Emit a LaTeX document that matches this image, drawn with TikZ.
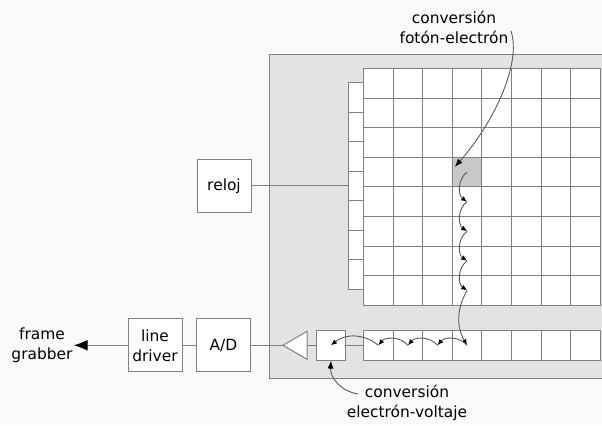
\documentclass[tikz,border=0pt]{standalone}
\usepackage{fontspec}
\setmainfont{DejaVu Sans}
\usetikzlibrary{arrows.meta,calc}
\definecolor{panelgray}{HTML}{E3E3E3}
\definecolor{cellgray}{HTML}{C8C8C8}
\definecolor{linegray}{HTML}{808080}
\tikzset{
  line/.style={draw=linegray,line width=1bp},
  cell/.style={line,fill=white,anchor=north west,inner sep=0pt,
    minimum width=29.6bp,minimum height=29.6bp},
  shiftcell/.style={line,fill=white,anchor=north west,inner sep=0pt,
    minimum width=15bp,minimum height=29.5bp},
  block/.style={line,fill=white,inner sep=0pt,
    minimum width=54bp,minimum height=53bp,font=\fontsize{15.5}{20}\selectfont,align=center},
  label/.style={inner sep=1pt,align=center,font=\fontsize{15.5}{20}\selectfont},
  hop/.style={draw=black!65,line width=0.9bp,-{Latex[length=6bp,width=5bp,black]}},
}
% one hop of the charge packet, from cell to cell
\newcommand{\hop}[3]{\draw[hop] (#1) to[bend right=#3] (#2);}

\begin{document}
\begin{tikzpicture}[x=1bp,y=1bp]
  \useasboundingbox[fill=white!98!black] (0,0) rectangle (602,425);
  \clip (0,0) rectangle (602,425);
  \draw[line,fill=panelgray] (269,47) rectangle (620,371);

  % image area
  \foreach \i in {0,...,7}
    \foreach \j in {0,...,7}
      \node[cell] (c\i-\j) at (363+29.6*\i,357-29.6*\j) {};
  \node[cell,fill=cellgray] at (c3-3.north west) {};
  % vertical clock register
  \foreach \j in {0,...,6}
    \node[shiftcell] (s\j) at (348,343-29.5*\j) {};
  % horizontal register
  \foreach \i in {0,...,7}
    \node[cell] (r\i) at (363+29.6*\i,95) {};

  % output stage
  \node[line,fill=white,minimum size=29.6bp,inner sep=0pt] (out) at (331,0 |- r0) {};
  \draw[line] (r0.west) -- (out.east);
  \coordinate (ampin) at (307,0 |- r0);
  \coordinate (amp) at (283,0 |- r0);
  \draw[line,fill=white] ($(ampin)+(0,14)$) -- (amp) -- ($(ampin)+(0,-14)$) -- cycle;
  \draw[line] (out.west) -- (ampin);
  \node[block] (ad) at (223.5,0 |- r0) {A/D};
  \node[block] (driver) at (155,0 |- r0) {line\\driver};
  \node[label] (grabber) at (42,0 |- r0) {frame\\grabber};
  \draw[line] (amp) -- (ad.east);
  \draw[line] (ad.west) -- (driver.east);
  \draw[line,-{Latex[length=14bp,width=11bp,black]}] (driver.west) -- (grabber.east);

  % clock
  \node[block] (reloj) at (224,0 |- s3) {reloj};
  \draw[line] (reloj.east) -- (s3.west);

  % charge transfer
  \hop{c3-3.center}{c3-4.center}{55}
  \hop{c3-4.center}{c3-5.center}{55}
  \hop{c3-5.center}{c3-6.center}{55}
  \hop{c3-6.center}{c3-7.center}{55}
  \hop{c3-7.center}{r3.center}{30}
  \foreach \i/\k in {3/2,2/1,1/0}{
    \hop{r\i.center}{r\k.center}{50}
  }
  \hop{r0.center}{out.center}{40}

  % annotations
  \node[label] (photon) at (454,397.5) {conversión\\fotón-electrón};
  \coordinate (photonend) at (511,394);
  \draw[hop,-{Latex[length=8bp,width=6bp,black]}] (photonend) .. controls (522,360) and (492,300) .. ($(c3-3.north west)+(3,-10)$);
  \node[label] (voltage) at (407,22) {conversión\\electrón-voltaje};
  \coordinate (voltageend) at (358,31);
  \draw[hop,-{Latex[length=8bp,width=6bp,black]}] (voltageend) .. controls (340,34) and (330,48) .. (out.south);
\end{tikzpicture}
\end{document}
